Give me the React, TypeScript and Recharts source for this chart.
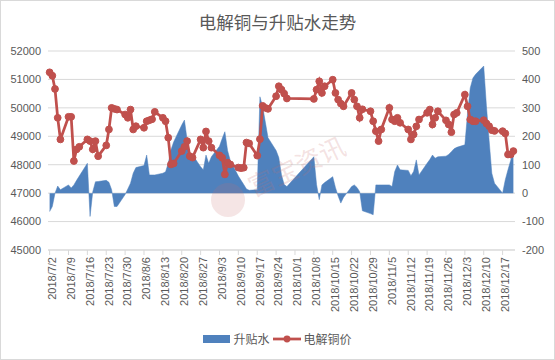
import React from "react";
import {
  ComposedChart,
  Area,
  Line,
  XAxis,
  YAxis,
  CartesianGrid,
} from "recharts";

const dates = [
  "2018/7/2", "2018/7/3", "2018/7/4", "2018/7/5", "2018/7/6",
  "2018/7/9", "2018/7/10", "2018/7/11", "2018/7/12", "2018/7/13",
  "2018/7/16", "2018/7/17", "2018/7/18", "2018/7/19", "2018/7/20",
  "2018/7/23", "2018/7/24", "2018/7/25", "2018/7/26", "2018/7/27",
  "2018/7/30", "2018/7/31", "2018/8/1", "2018/8/2", "2018/8/3",
  "2018/8/6", "2018/8/7", "2018/8/8", "2018/8/9", "2018/8/10",
  "2018/8/13", "2018/8/14", "2018/8/15", "2018/8/16", "2018/8/17",
  "2018/8/20", "2018/8/21", "2018/8/22", "2018/8/23", "2018/8/24",
  "2018/8/27", "2018/8/28", "2018/8/29", "2018/8/30", "2018/8/31",
  "2018/9/3", "2018/9/4", "2018/9/5", "2018/9/6", "2018/9/7",
  "2018/9/10", "2018/9/11", "2018/9/12", "2018/9/13", "2018/9/14",
  "2018/9/17", "2018/9/18", "2018/9/19", "2018/9/20", "2018/9/21",
  "2018/9/24", "2018/9/25", "2018/9/26", "2018/9/27", "2018/9/28",
  "2018/10/8", "2018/10/9", "2018/10/10", "2018/10/11", "2018/10/12",
  "2018/10/15", "2018/10/16", "2018/10/17", "2018/10/18", "2018/10/19",
  "2018/10/22", "2018/10/23", "2018/10/24", "2018/10/25", "2018/10/26",
  "2018/10/29", "2018/10/30", "2018/10/31", "2018/11/1", "2018/11/2",
  "2018/11/5", "2018/11/6", "2018/11/7", "2018/11/8", "2018/11/9",
  "2018/11/12", "2018/11/13", "2018/11/14", "2018/11/15", "2018/11/16",
  "2018/11/19", "2018/11/20", "2018/11/21", "2018/11/22", "2018/11/23",
  "2018/11/26", "2018/11/27", "2018/11/28", "2018/11/29", "2018/11/30",
  "2018/12/3", "2018/12/4", "2018/12/5", "2018/12/6", "2018/12/7",
  "2018/12/10", "2018/12/11", "2018/12/12", "2018/12/13", "2018/12/14",
  "2018/12/17", "2018/12/18", "2018/12/19", "2018/12/20", "2018/12/21",
];

// 电解铜价 (left axis)
const copperPrice = [
  51250, 51130, 50665, 49650, 48890,
  49685, 49685, 48130, 48540, 48630,
  48890, 48830, 48540, 48830, 48300,
  48680, 49240, 50000, 49965, 49940,
  49765, 49650, 49940, 49240, 49355,
  49300, 49530, 49565, 49600, 49860,
  49650, 49530, 48950, 48010, 48045,
  48480, 48630, 48830, 48300, 48250,
  48890, 48600, 49170, 48830, 48600,
  48330, 48245, 47660, 48070, 48010,
  47900, 47880, 47895, 48780, 48750,
  48320, 48900, 50070, 50000, 49965,
  50410, 50760, 50640, 50500, 50330,
  50315, 50640, 50935, 50525, 50760,
  50990, 50525, 50290, 50150, 50055,
  50525, 50290, 50055, 49650, 49950,
  49880, 49530, 49180, 48830, 49240,
  50000, 49590, 49530, 49650, 49475,
  49240, 48890, 49065, 49350, 49590,
  49825, 49940, 49415, 49650, 49880,
  49560, 49415, 49145, 49765, 49825,
  50465, 50055, 49590, 49530, 49530,
  49565, 49450, 49355, 49215, 49190,
  49180, 49100, 48360, 48360, 48480,
];

// 升贴水 (right axis)
const premium = [
  -65, -47, 0, 25, 12,
  29, 18, 29, 45, 60,
  105, -82, 5, 40, 41,
  45, 38, 12, -47, -47,
  -5, 15, 35, 70, 90,
  97, 134, 64, 64, 64,
  70, 75, 105, 152, 180,
  240, 257, 187, 134, 135,
  93, 82, 134, 105, 128,
  165, 192, 216, 150, 115,
  60, 45, 30, 15, 10,
  12, 339, 305, 250, 195,
  150, 125, 64, 30, 23,
  128, 30, -23, 29, 37,
  58, 20, -10, -35, -15,
  23, 29, 20, 5, -62,
  -72, -76, 29, 29, 29,
  29, 23, 76, 99, 82,
  80, 61, 76, 117, 64,
  105, 118, 134, 123, 128,
  130, 136, 146, 156, 161,
  170, 280, 370, 405, 418,
  447, 307, 186, 70, 35,
  0, 47, 82, 115, 152,
];

const tickLabels = [
  "2018/7/2", "2018/7/9", "2018/7/16", "2018/7/23", "2018/7/30",
  "2018/8/6", "2018/8/13", "2018/8/20", "2018/8/27", "2018/9/3",
  "2018/9/10", "2018/9/17", "2018/9/24", "2018/10/1", "2018/10/8",
  "2018/10/15", "2018/10/22", "2018/10/29", "2018/11/5", "2018/11/12",
  "2018/11/19", "2018/11/26", "2018/12/3", "2018/12/10", "2018/12/17",
];

const leftTicks = [45000, 46000, 47000, 48000, 49000, 50000, 51000, 52000];
const rightTicks = [-200, -100, 0, 100, 200, 300, 400, 500];

const BLUE = "#4F81BD";
const RED = "#C0504D";
const TEXT = "#595959";
const FONT = "'Liberation Sans', 'Noto Sans CJK SC', sans-serif";
const CJK = "'Noto Sans CJK SC', 'Liberation Sans', sans-serif";

function dayIndex(s: string): number {
  const [y, m, d] = s.split("/").map(Number);
  return Math.round((Date.UTC(y, m - 1, d) - Date.UTC(2018, 6, 2)) / 86400000);
}

const data = dates.map((s, i) => ({
  d: dayIndex(s),
  price: copperPrice[i],
  premium: premium[i],
}));

const xTicks = tickLabels.map(dayIndex);
const labelOf: Record<number, string> = {};
tickLabels.forEach((t) => {
  labelOf[dayIndex(t)] = t;
});

const XTick = (props: any) => {
  const { x, y, payload } = props;
  return (
    <g transform={`translate(${x},${y})`}>
      <text
        transform="rotate(-90)"
        x={-2}
        y={2.5}
        dy="0.35em"
        textAnchor="end"
        fill={TEXT}
        fontSize={11}
        fontFamily={FONT}
      >
        {labelOf[payload.value]}
      </text>
    </g>
  );
};

export default function App() {
  return (
    <div
      style={{
        position: "absolute",
        left: 0,
        top: 0,
        width: 555,
        height: 360,
        background: "#fff",
        fontFamily: FONT,
      }}
    >
      <div
        style={{
          position: "absolute",
          left: 0,
          top: 10,
          width: 555,
          textAlign: "center",
          fontSize: 17.5,
          lineHeight: "24px",
          color: TEXT,
          fontFamily: CJK,
        }}
      >
        电解铜与升贴水走势
      </div>
      <ComposedChart
        width={555}
        height={360}
        data={data}
        margin={{ top: 51, right: 8, bottom: 50, left: 8 }}
        style={{ position: "absolute", left: 0, top: 0 }}
      >
        <CartesianGrid
          yAxisId="left"
          vertical={false}
          stroke="#d9d9d9"
          strokeWidth={1}
        />
        <XAxis
          dataKey="d"
          type="number"
          domain={[-0.6, 172.6]}
          ticks={xTicks}
          interval={0}
          height={60}
          axisLine={{ stroke: "#d9d9d9" }}
          tickLine={{ stroke: "#d9d9d9" }}
          tickSize={5}
          tickMargin={0}
          tick={<XTick />}
        />
        <YAxis
          yAxisId="left"
          orientation="left"
          domain={[45000, 52000]}
          ticks={leftTicks}
          interval={0}
          width={40}
          axisLine={false}
          tickLine={false}
          tickSize={5}
          tickMargin={2}
          tick={{ fill: TEXT, fontSize: 11, fontFamily: FONT }}
        />
        <YAxis
          yAxisId="right"
          orientation="right"
          domain={[-200, 500]}
          ticks={rightTicks}
          interval={0}
          width={32}
          axisLine={false}
          tickLine={false}
          tickSize={5}
          tickMargin={2}
          tick={{ fill: TEXT, fontSize: 11, fontFamily: FONT }}
        />
        <Area
          yAxisId="right"
          dataKey="premium"
          type="linear"
          baseValue={0}
          fill={BLUE}
          fillOpacity={1}
          stroke={BLUE}
          strokeWidth={0.5}
          isAnimationActive={false}
        />
        <Line
          yAxisId="left"
          dataKey="price"
          type="linear"
          stroke={RED}
          strokeWidth={2.75}
          dot={{ r: 3.4, fill: RED, stroke: RED, strokeWidth: 1 }}
          activeDot={false}
          isAnimationActive={false}
        />
      </ComposedChart>
      <svg
        width={555}
        height={360}
        style={{ position: "absolute", left: 0, top: 0, pointerEvents: "none" }}
      >
        <circle cx={228} cy={200} r={17} fill="rgba(200,110,110,0.18)" />
        <text
          x={297}
          y={176}
          transform="rotate(-25 297 167)"
          textAnchor="middle"
          fontSize={26}
          fontFamily={CJK}
          fill="rgba(200,110,110,0.2)"
        >
          富宝资讯
        </text>
      </svg>
      <div
        style={{
          position: "absolute",
          left: 0,
          top: 331,
          width: 555,
          display: "flex",
          justifyContent: "center",
          alignItems: "center",
          fontSize: 12,
          lineHeight: "16px",
          color: TEXT,
          fontFamily: CJK,
        }}
      >
        <span style={{ display: "inline-block", width: 27, height: 8, background: BLUE, marginRight: 3 }} />
        <span style={{ marginRight: 3 }}>升贴水</span>
        <svg width={28} height={10} style={{ marginRight: 3 }}>
          <line x1={0} y1={5} x2={28} y2={5} stroke={RED} strokeWidth={2.75} />
          <circle cx={14} cy={5} r={3.4} fill={RED} />
        </svg>
        <span>电解铜价</span>
      </div>
      <div
        style={{
          position: "absolute",
          left: 0,
          top: 0,
          width: 555,
          height: 360,
          boxSizing: "border-box",
          border: "1px solid #d9d9d9",
          pointerEvents: "none",
        }}
      />
    </div>
  );
}
